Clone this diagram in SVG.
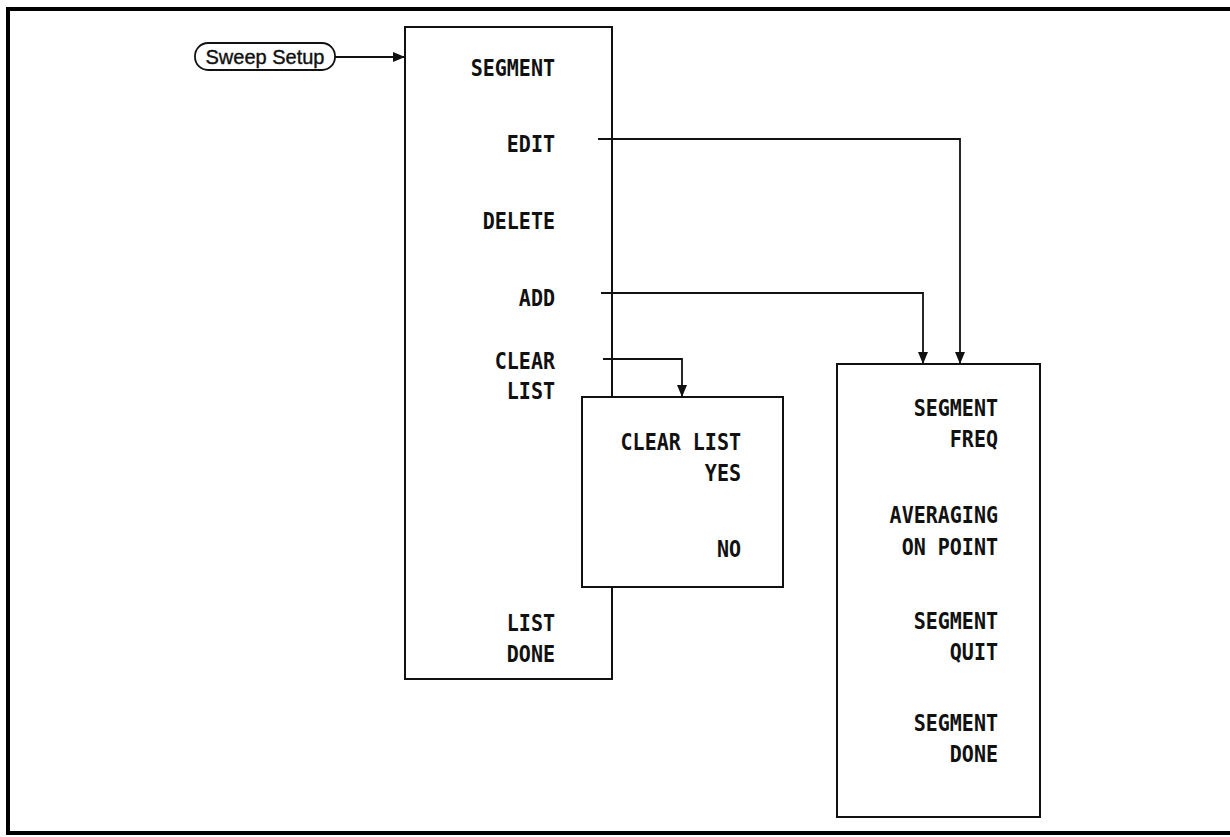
<svg xmlns="http://www.w3.org/2000/svg" width="1230" height="837" viewBox="0 0 1230 837">
<defs>
<style>
.box{fill:#fff;stroke:#111;stroke-width:2}
.frame{fill:none;stroke:#000;stroke-width:4}
.con{fill:none;stroke:#111;stroke-width:1.8}
.lbl{font-family:"DejaVu Sans Mono","Liberation Mono",monospace;font-weight:bold;font-size:23px;fill:#111;text-anchor:end}
.pill{font-family:"Liberation Sans",Arial,sans-serif;font-size:20px;fill:#111;stroke:#111;stroke-width:0.4;text-anchor:middle}
</style>
<marker id="ah" markerWidth="12" markerHeight="12" refX="11" refY="6" orient="auto" markerUnits="userSpaceOnUse">
<path d="M0,1 L12,6 L0,11 Z" fill="#111"/>
</marker>
</defs>
<rect x="0" y="0" width="1230" height="837" fill="#fff"/>
<rect class="frame" x="8" y="9" width="1240" height="824"/>

<g id="sweep-setup">
<rect x="195" y="43" width="140" height="27" rx="13" ry="13" fill="#fff" stroke="#111" stroke-width="1.8"/>
<text class="pill" x="265" y="63.5">Sweep Setup</text>
</g>

<g id="main-menu">
<rect class="box" x="405" y="27" width="207" height="652"/>
<g transform="translate(555,0) scale(0.87,1)">
<text class="lbl" x="0" y="76">SEGMENT</text>
<text class="lbl" x="0" y="152">EDIT</text>
<text class="lbl" x="0" y="229">DELETE</text>
<text class="lbl" x="0" y="306">ADD</text>
<text class="lbl" x="0" y="369">CLEAR</text>
<text class="lbl" x="0" y="399">LIST</text>
<text class="lbl" x="0" y="631">LIST</text>
<text class="lbl" x="0" y="662">DONE</text>
</g>
</g>

<g id="connectors">
<line class="con" x1="335" y1="57" x2="404" y2="57" marker-end="url(#ah)"/>
<polyline class="con" points="598,139 960,139 960,363" marker-end="url(#ah)"/>
<polyline class="con" points="601,293 923,293 923,363" marker-end="url(#ah)"/>
<polyline class="con" points="603,359 682,359 682,396" marker-end="url(#ah)"/>
</g>

<g id="clear-list-menu">
<rect class="box" x="582" y="397" width="201" height="190"/>
<g transform="translate(741,0) scale(0.87,1)">
<text class="lbl" x="0" y="450">CLEAR LIST</text>
<text class="lbl" x="0" y="481">YES</text>
<text class="lbl" x="0" y="557">NO</text>
</g>
</g>

<g id="segment-menu">
<rect class="box" x="837" y="364" width="203" height="453"/>
<g transform="translate(998,0) scale(0.87,1)">
<text class="lbl" x="0" y="416">SEGMENT</text>
<text class="lbl" x="0" y="447">FREQ</text>
<text class="lbl" x="0" y="523">AVERAGING</text>
<text class="lbl" x="0" y="555">ON POINT</text>
<text class="lbl" x="0" y="629">SEGMENT</text>
<text class="lbl" x="0" y="660">QUIT</text>
<text class="lbl" x="0" y="731">SEGMENT</text>
<text class="lbl" x="0" y="762">DONE</text>
</g>
</g>
</svg>
